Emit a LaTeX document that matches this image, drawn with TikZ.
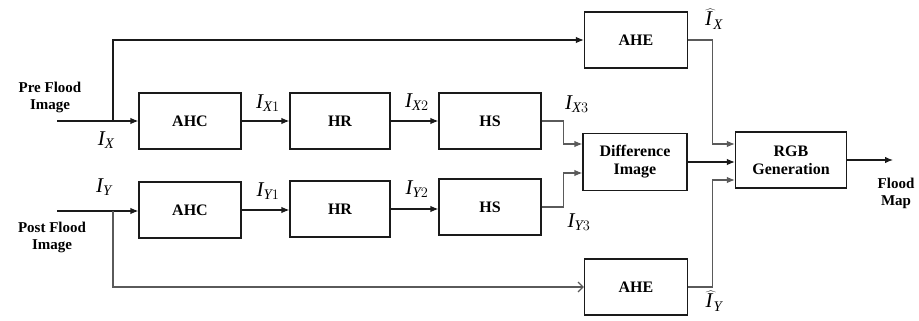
\documentclass[tikz,border=0pt]{standalone}
\usepackage{fontspec}
\setmainfont{Liberation Serif}
\usepackage{tikz}
\usetikzlibrary{positioning,calc,arrows.meta}
\definecolor{wire}{HTML}{1a1a1a}
\definecolor{softwire}{HTML}{5a5a5a}

\begin{document}
\begin{tikzpicture}[x=1pt,y=-1pt,
  blockbox/.style={draw=wire, line width=1.2pt, minimum width=102pt, minimum height=56pt,
    inner sep=0pt, font=\fontsize{16}{18}\selectfont\bfseries, align=center},
  wirearrow/.style={draw=wire, line width=1.2pt, -{Latex[length=8pt,width=6.5pt]}},
  softarrow/.style={draw=softwire, line width=1.2pt, -{Latex[length=8pt,width=6.5pt]}},
  tagtext/.style={font=\fontsize{21}{23}\selectfont, inner sep=0pt},
  sidetext/.style={font=\fontsize{15}{17}\selectfont\bfseries, align=center, inner sep=0pt}]
\useasboundingbox (0,0) rectangle (919,321);
% Blocks
\node[blockbox] (ahcx) at (190,121) {AHC};
\node[blockbox, minimum width=100pt] (hrx) at (340,121) {HR};
\node[blockbox] (hsx) at (490,121) {HS};
\node[blockbox] (ahcy) at (190,210) {AHC};
\node[blockbox, minimum width=100pt] (hry) at (340,209) {HR};
\node[blockbox] (hsy) at (490,207) {HS};
\node[blockbox, minimum width=103pt] (ahex) at (636,40) {AHE};
\node[blockbox, minimum width=103pt] (ahey) at (636,287) {AHE};
\node[blockbox, minimum width=104pt, minimum height=57pt] (diff) at (635,162) {Difference\\Image};
\node[blockbox, minimum width=111pt] (rgb) at (791,160) {RGB\\Generation};
% Inputs and split points
\coordinate (prein) at (57,121);
\coordinate (postin) at (57,211);
\coordinate (splitx) at (113,121);
\coordinate (splity) at (113,211);
\node[sidetext] (pretext) at (50,97) {Pre Flood\\Image};
\node[sidetext] (posttext) at (52,237) {Post Flood\\Image};
% Top chain
\draw[wirearrow] (prein) -- (ahcx.west);
\draw[wirearrow] (ahcx.east) -- (hrx.west);
\draw[wirearrow] (hrx.east) -- (hsx.west);
\draw[wirearrow] (splitx) |- (ahex.west);
% Bottom chain
\draw[wirearrow] (postin) -- (postin -| ahcy.west);
\draw[wirearrow] (ahcy.east) -- (ahcy.east -| hry.west);
\draw[wirearrow] (hry.east) -- (hry.east -| hsy.west);
\draw[draw=softwire, line width=1.2pt, -{Straight Barb[length=5pt,width=10pt]}] (splity) |- (ahey.west);
% Into difference image
\draw[softarrow] (hsx.east) -- ++(22,0) |- ([yshift=18pt]diff.west);
\draw[softarrow] (hsy.east) -- ++(22,0) |- ([yshift=-11pt]diff.west);
% Into RGB generation
\draw[softarrow] (ahex.east) -- ++(24,0) |- ([yshift=16pt]rgb.west);
\draw[wirearrow] (diff.east) -- (diff.east -| rgb.west);
\draw[softarrow] (ahey.east) -- ++(24,0) |- ([yshift=-20pt]rgb.west);
\coordinate (floodout) at (893,160);
\draw[wirearrow] (rgb.east) -- (floodout);
\node[sidetext] (floodtext) at (896,193) {Flood\\Map};
% Signal tags
\node[tagtext] (tagx) at (106,140) {$\mathit{I}_{\mathit{X}}$};
\node[tagtext] (tagy) at (104,187) {$\mathit{I}_{\mathit{Y}}$};
\node[tagtext] (tagxa) at (268,103) {$\mathit{I}_{\mathit{X}1}$};
\node[tagtext] (tagxb) at (417,102) {$\mathit{I}_{\mathit{X}2}$};
\node[tagtext] (tagxc) at (577,104) {$\mathit{I}_{\mathit{X}3}$};
\node[tagtext] (tagya) at (268,191) {$\mathit{I}_{\mathit{Y}1}$};
\node[tagtext] (tagyb) at (417,189) {$\mathit{I}_{\mathit{Y}2}$};
\node[tagtext] (tagyc) at (579,222) {$\mathit{I}_{\mathit{Y}3}$};
\node[tagtext] (hatx) at (714,19) {$\widehat{\mathit{I}\,}_{\!\mathit{X}}$};
\node[tagtext] (haty) at (714,301) {$\widehat{\mathit{I}\,}_{\!\mathit{Y}}$};
\end{tikzpicture}
\end{document}
